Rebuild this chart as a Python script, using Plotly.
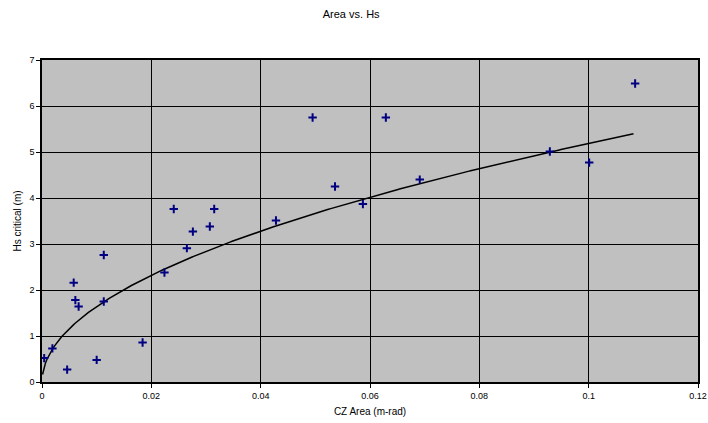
import numpy as np
import plotly.graph_objects as go

# Data
area = [0.0004, 0.0019, 0.0046, 0.0058, 0.0061, 0.0067, 0.0100, 0.0113, 0.0113,
        0.0184, 0.0224, 0.0241, 0.0265, 0.0276, 0.0307, 0.0315, 0.0428, 0.0495,
        0.0536, 0.0587, 0.0629, 0.0691, 0.0929, 0.1001, 0.1085]
hs = [0.52, 0.73, 0.27, 2.16, 1.78, 1.64, 0.48, 2.76, 1.75,
      0.86, 2.38, 3.76, 2.91, 3.27, 3.38, 3.76, 3.51, 5.75,
      4.25, 3.87, 5.75, 4.40, 5.01, 4.77, 6.49]

x_ticks = [0, 0.02, 0.04, 0.06, 0.08, 0.1, 0.12]
x_tick_labels = ["0", "0.02", "0.04", "0.06", "0.08", "0.1", "0.12"]
y_ticks = [0, 1, 2, 3, 4, 5, 6, 7]

# Power trendline y = a * x^b, coefficients
trend_a = 16.4
trend_b = 0.5
trend_x_start = 0.0001
trend_x_end = 0.1082

xt = np.linspace(trend_x_start, trend_x_end, 400)
yt = trend_a * xt ** trend_b

font = "Liberation Sans, Arial, sans-serif"

fig = go.Figure()
fig.add_trace(go.Scatter(x=xt, y=yt, mode="lines",
                         line=dict(color="black", width=1.5), showlegend=False,
                         hoverinfo="skip"))
fig.add_trace(go.Scatter(x=area, y=hs, mode="markers",
                         marker=dict(symbol="cross-thin", size=6, color="#000080",
                                     line=dict(color="#000080", width=2)),
                         showlegend=False))

fig.update_layout(
    width=708, height=423,
    margin=dict(l=42, r=10, t=60, b=41),
    paper_bgcolor="white", plot_bgcolor="#C0C0C0",
    font=dict(family=font, size=9, color="black"),
    title=dict(text="Area vs. Hs", x=0.496, xanchor="center", y=0.975, yanchor="top",
               font=dict(size=11, family=font, color="black")),
    xaxis=dict(range=[0, 0.12], tickvals=x_ticks, ticktext=x_tick_labels,
               showgrid=True, gridcolor="black", gridwidth=1.2,
               showline=True, linecolor="black", linewidth=1.5, mirror=True,
               ticks="outside", ticklen=4, tickcolor="black", zeroline=False,
               ticklabeloverflow="allow", automargin=False,
               title=dict(text="CZ Area (m-rad)", standoff=8, font=dict(size=10))),
    yaxis=dict(range=[0, 7], tickvals=y_ticks,
               showgrid=True, gridcolor="black", gridwidth=1.2,
               showline=True, linecolor="black", linewidth=1.5, mirror=True,
               ticks="outside", ticklen=4, tickcolor="black", zeroline=False,
               automargin=False,
               title=dict(text="Hs critical (m)", standoff=6, font=dict(size=10))),
)

fig.write_html("out.html")
